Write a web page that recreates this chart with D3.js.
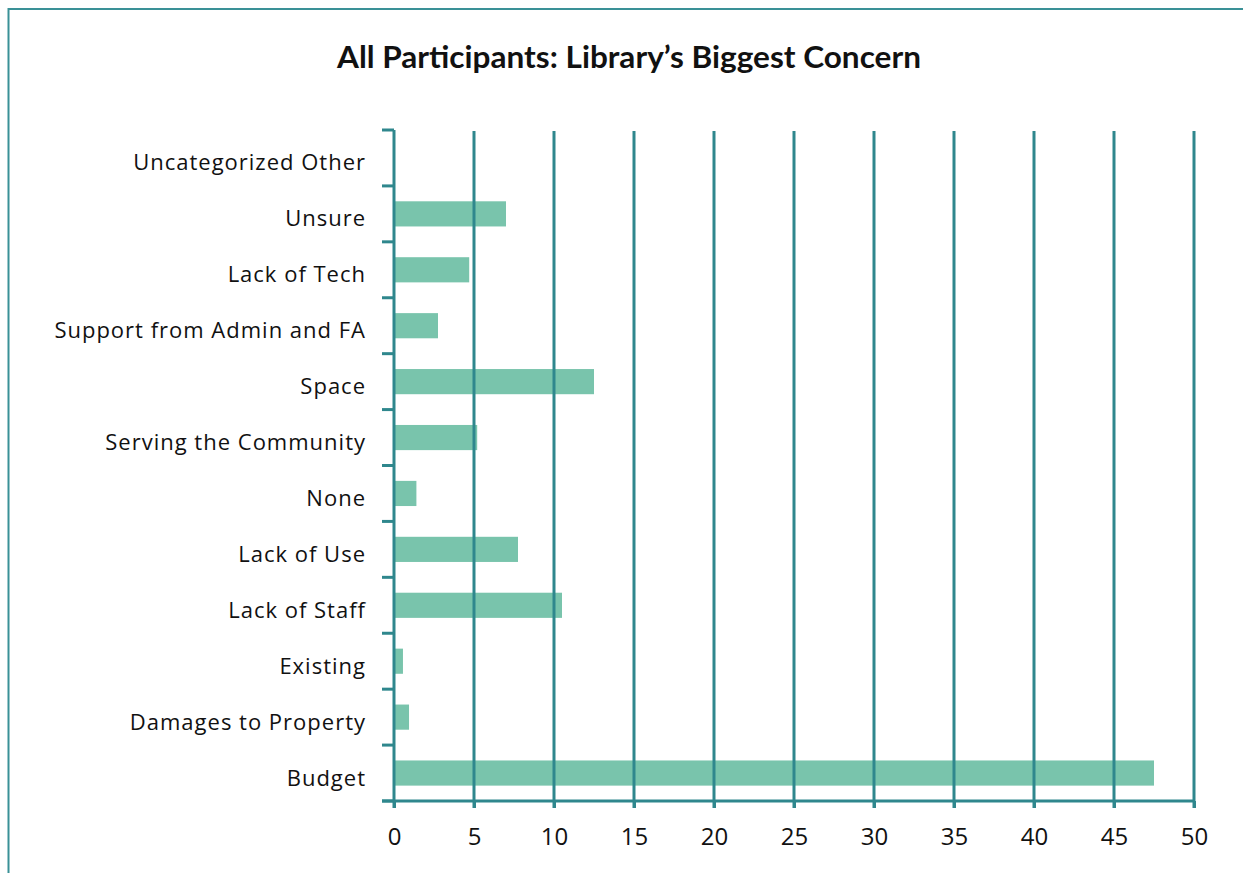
<!DOCTYPE html>
<meta charset="utf-8">
<title>Library's Biggest Concern</title>
<script src="https://d3js.org/d3.v7.min.js"></script>
<style>
    body { margin: 0; background: #fff; }
    text { font-family: "Open Sans", Lato, sans-serif; fill: #111; }
    .title { font-family: Lato, sans-serif; }
</style>
<body>
<script>
    // Data (top to bottom)
    const categories = ["Uncategorized Other", "Unsure", "Lack of Tech", "Support from Admin and FA",
                        "Space", "Serving the Community", "None", "Lack of Use", "Lack of Staff",
                        "Existing", "Damages to Property", "Budget"];
    const values     = [0, 7, 4.7, 2.75, 12.5, 5.2, 1.4, 7.75, 10.5, 0.56, 0.94, 47.5];
    const xTicks     = [0, 5, 10, 15, 20, 25, 30, 35, 40, 45, 50];
    const title      = "All Participants: Library\u2019s Biggest Concern";

    const width  = 1243;
    const height = 873;
    const teal   = "#2f878d";
    const barColor = "#79c4ac";

    // plot area
    const plotLeft = 394, plotRight = 1194, plotTop = 130, plotBottom = 801;

    const dataset = categories.map((c, i) => ({ cat: c, value: values[i] }));

    const xScale = d3.scaleLinear().domain([0, 50]).range([plotLeft, plotRight]);
    const yScale = d3.scaleBand()
                     .domain(categories)
                     .range([plotTop, plotBottom])
                     .paddingInner(0.55)
                     .paddingOuter(0.275);

    const svg = d3.select("body")
                  .append("svg")
                  .attr("width", width)
                  .attr("height", height);

    // Frame
    svg.append("rect")
        .attr("x", 8.5).attr("y", 9)
        .attr("width", width + 20).attr("height", height + 20)
        .attr("fill", "none")
        .attr("stroke", "#3a9197")
        .attr("stroke-width", 2);

    // Title
    svg.append("text")
        .attr("class", "title")
        .attr("x", 629).attr("y", 68)
        .attr("text-anchor", "middle")
        .attr("font-size", 30)
        .attr("font-weight", 700)
        .attr("textLength", 584)
        .attr("lengthAdjust", "spacingAndGlyphs")
        .text(title);

    // Bars
    svg.append("g")
        .attr("id", "bars")
        .selectAll("rect")
        .data(dataset)
        .enter()
        .append("rect")
        .attr("x", xScale(0))
        .attr("y", d => yScale(d.cat))
        .attr("width", d => xScale(d.value) - xScale(0))
        .attr("height", yScale.bandwidth())
        .attr("fill", barColor);

    // Vertical gridlines
    svg.append("g")
        .attr("id", "grid")
        .selectAll("line")
        .data(xTicks.slice(1))
        .enter()
        .append("line")
        .attr("x1", d => xScale(d)).attr("x2", d => xScale(d))
        .attr("y1", plotTop + 1).attr("y2", plotBottom + 7)
        .attr("stroke", teal)
        .attr("stroke-width", 3);

    // X axis
    const xAxis = d3.axisBottom(xScale).tickValues(xTicks).tickSize(7).tickSizeOuter(0);
    const gx = svg.append("g")
        .attr("id", "xAxis")
        .attr("transform", "translate(0," + plotBottom + ")")
        .call(xAxis);
    gx.select(".domain").attr("stroke", teal).attr("stroke-width", 3)
        .attr("d", "M" + (plotLeft - 12) + ",0H" + plotRight);
    gx.selectAll(".tick line").attr("stroke", teal).attr("stroke-width", 3);
    gx.selectAll(".tick text")
        .attr("y", 44).attr("dy", null)
        .attr("font-size", 24)
        .attr("font-family", "'Open Sans', sans-serif")
        .attr("fill", "#111");

    // Y axis: line plus ticks on band boundaries
    const step = yScale.step();
    const boundaries = d3.range(categories.length + 1).map(i => plotTop + i * step);
    const gy = svg.append("g").attr("id", "yAxis");
    gy.append("line")
        .attr("x1", plotLeft).attr("x2", plotLeft)
        .attr("y1", plotTop).attr("y2", plotBottom + 7)
        .attr("stroke", teal).attr("stroke-width", 3);
    gy.selectAll("line.tick")
        .data(boundaries)
        .enter()
        .append("line")
        .attr("class", "tick")
        .attr("x1", plotLeft - 12).attr("x2", plotLeft)
        .attr("y1", d => d).attr("y2", d => d)
        .attr("stroke", teal).attr("stroke-width", 3);

    // Category labels
    gy.selectAll("text")
        .data(categories)
        .enter()
        .append("text")
        .attr("x", 366)
        .attr("y", d => yScale(d) + yScale.bandwidth() / 2)
        .attr("dy", 12.5)
        .attr("text-anchor", "end")
        .attr("font-size", 22)
        .attr("letter-spacing", 1)
        .text(d => d);
</script>
</body>
